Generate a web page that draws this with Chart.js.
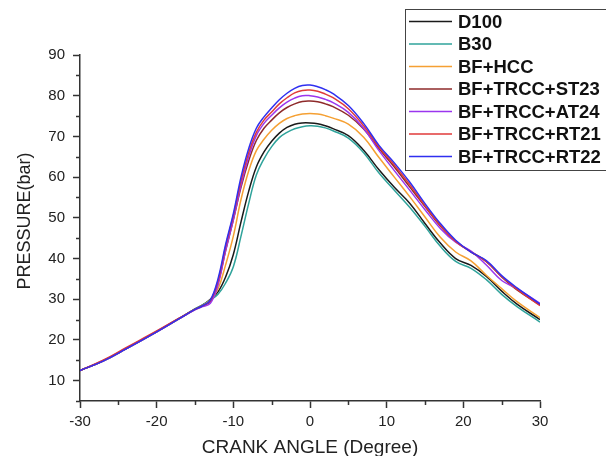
<!DOCTYPE html>
<html><head><meta charset="utf-8">
<script src="https://cdn.jsdelivr.net/npm/chart.js@4"></script>
<style>html,body{margin:0;padding:0;background:#fff}#wrap{width:606px;height:456px;position:relative}</style>
</head><body><div id="wrap"><canvas id="c" width="606" height="456"></canvas></div>
<script>
const angles = [-30,-27,-24,-20,-17,-15,-14,-13,-12,-11,-10,-9,-8,-7,-6,-5,-4,-3,-2,-1,0,1,2,3,5,7,9,11,13,15,17,19,21,23,25,27,30];
const seriesNames = ['D100','B30','BF+HCC','BF+TRCC+ST23','BF+TRCC+AT24','BF+TRCC+RT21','BF+TRCC+RT22'];
const d100 = [12.5,14.8,17.8,22.0,25.3,27.6,28.6, 30.0,31.8,35.5,41.0,49.0,56.5,62.5,66.2,68.8,70.8,72.2,73.0,73.3,73.3,73.1,72.6,71.9, 70.2,66.6,61.8,57.5,53.6,48.6,43.8,40.0,38.3,35.6,32.0,28.8,25.0];
const b30 = [12.5,14.8,17.8,22.0,25.3,27.6,28.6, 29.8,31.2,34.0,38.0,45.5,53.5,60.5,64.5,67.5,69.7,71.0,71.9,72.4,72.6,72.5,72.1,71.4, 69.6,66.0,61.0,56.8,52.6,47.9,43.0,39.3,37.6,34.8,31.2,28.2,24.4];
const bfHcc = [12.5,14.8,17.8,22.0,25.3,27.5,28.5, 29.8,32.5,38.5,45.5,54.5,61.5,66.5,69.3,71.5,73.2,74.4,75.1,75.5,75.6,75.5,75.1,74.5, 73.0,69.8,64.8,60.0,55.2,50.2,45.2,41.6,39.4,35.9,32.6,29.4,25.5];
const st23 = [12.5,14.9,17.9,22.1,25.4,27.5,28.4, 29.4,34.0,42.0,49.5,57.5,64.0,69.0,72.0,74.0,75.8,77.1,78.0,78.6,78.7,78.5,78.0,77.3, 75.2,71.8,67.0,62.5,57.6,52.8,48.0,44.2,41.7,39.2,35.5,32.3,28.6];
const at24 = [12.5,14.8,17.8,22.0,25.3,27.4,28.2, 29.0,33.5,42.0,49.5,58.0,65.0,70.2,73.2,75.2,77.0,78.4,79.4,80.0,80.0,79.7,79.1,78.3, 75.9,72.0,66.5,61.6,56.8,52.0,47.4,44.0,41.8,38.4,34.6,32.6,29.0];
const rt21 = [12.5,15.0,18.1,22.2,25.4,27.5,28.4, 29.6,34.5,43.0,50.5,59.0,66.0,71.0,74.0,76.0,78.0,79.5,80.7,81.3,81.4,81.1,80.4,79.5, 76.8,72.6,67.4,63.0,58.2,53.0,48.2,44.2,41.6,39.3,35.6,32.5,28.4];
const rt22 = [12.5,14.8,17.8,22.0,25.3,27.5,28.4, 29.8,35.0,43.5,51.0,60.0,67.0,72.0,74.8,77.0,79.0,80.6,81.8,82.5,82.6,82.2,81.5,80.5, 77.6,73.2,67.8,63.5,58.8,53.5,48.6,44.5,41.6,39.5,35.8,32.8,28.8];
const seriesValues = [d100,b30,bfHcc,st23,at24,rt21,rt22];
const seriesColors = ['#1a1a1a','#2fa39b','#f5a033','#8e2a2a','#9b35ee','#e03a3a','#2f2ff0'];
const xMajorTicks = [-30,-20,-10,0,10,20,30];
const xMinorTicks = [-25,-15,-5,5,15,25];
const yMajorTicks = [10,20,30,40,50,60,70,80,90];
const yMinorTicks = [5,15,25,35,45,55,65,75,85];
const xTitle = 'CRANK ANGLE (Degree)';
const yTitle = 'PRESSURE(bar)';

const FONT = "'Liberation Sans', Arial, sans-serif";
const AX = '#333';

const extras = {
  id:'extras',
  afterDraw(chart){
    const {ctx, scales:{x,y}, chartArea:a} = chart;
    ctx.save(); ctx.strokeStyle = AX; ctx.lineWidth = 1.5;
    ctx.beginPath();
    for (const v of yMinorTicks){ const p = Math.round(y.getPixelForValue(v))+0.5; ctx.moveTo(a.left-4,p); ctx.lineTo(a.left,p); }
    for (const v of xMinorTicks){ const p = Math.round(x.getPixelForValue(v))+0.5; ctx.moveTo(p,a.bottom); ctx.lineTo(p,a.bottom+4); }
    ctx.stroke();
    // y axis title
    ctx.save();
    ctx.translate(25, (a.top + a.bottom)/2 - 7);
    ctx.rotate(-Math.PI/2);
    ctx.font = "18px " + FONT; ctx.fillStyle = '#222'; ctx.textAlign = 'center'; ctx.textBaseline = 'middle';
    ctx.fillText(yTitle, 0, 0);
    ctx.restore();
    // legend
    ctx.fillStyle = '#fff'; ctx.fillRect(405,9,210,162);
    ctx.strokeStyle = '#444'; ctx.lineWidth = 1; ctx.strokeRect(405.5,9.5,210,161);
    ctx.font = "bold 18.5px " + FONT; ctx.textBaseline = 'middle'; ctx.textAlign = 'left'; ctx.fillStyle = '#111';
    seriesNames.forEach((n,i)=>{
      const yy = 21.5 + i*22.5;
      ctx.strokeStyle = seriesColors[i]; ctx.lineWidth = 1.6;
      ctx.beginPath(); ctx.moveTo(409,yy); ctx.lineTo(452,yy); ctx.stroke();
      ctx.fillText(n, 458, yy+1);
    });
    ctx.restore();
  }
};

new Chart(document.getElementById('c'), {
  type:'line',
  data:{ datasets: seriesNames.map((n,i)=>({
    label:n,
    data: angles.map((a,k)=>({x:a, y:seriesValues[i][k]})),
    borderColor: seriesColors[i], borderWidth:1.5, pointRadius:0, fill:false,
    tension:0.4, order: seriesNames.length-1-i
  }))},
  options:{
    responsive:false, animation:false, devicePixelRatio:1,
    layout:{padding:{top:55,right:66,left:0,bottom:0}},
    plugins:{legend:{display:false}, tooltip:{enabled:false}},
    scales:{
      x:{type:'linear', min:-30, max:30,
        afterBuildTicks: s => { s.ticks = xMajorTicks.map(v=>({value:v})); },
        afterFit: s => { s.height = 55; },
        ticks:{font:{family:FONT,size:15}, color:'#222', padding:5, maxRotation:0},
        grid:{drawOnChartArea:false, drawTicks:true, tickLength:7, tickColor:AX, tickWidth:1.5},
        border:{color:AX, width:1.5},
        title:{display:true, text:xTitle, color:'#222', font:{family:FONT,size:19}, padding:{top:0,bottom:-3}}
      },
      y:{type:'linear', min:5, max:90,
        afterBuildTicks: s => { s.ticks = yMajorTicks.map(v=>({value:v})); },
        afterFit: s => { s.width = 80; },
        ticks:{font:{family:FONT,size:15}, color:'#222', padding:8},
        grid:{drawOnChartArea:false, drawTicks:true, tickLength:7, tickColor:AX, tickWidth:1.5},
        border:{color:AX, width:1.5},
        title:{display:false}
      }
    }
  },
  plugins:[extras]
});
</script></body></html>
